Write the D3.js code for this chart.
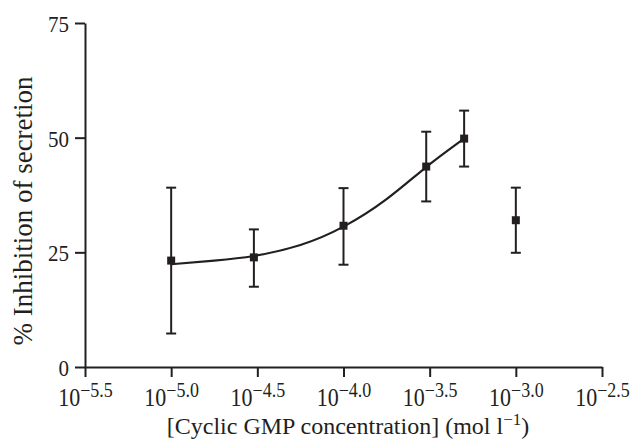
<!DOCTYPE html>
<html>
<head>
<meta charset="utf-8">
<script src="https://cdn.jsdelivr.net/npm/d3@7"></script>
<style>
  body { margin: 0; background: #fff; }
  svg { font-family: "Liberation Serif", "Times New Roman", serif; }
</style>
</head>
<body>
<svg id="chart" width="641" height="440"></svg>
<script>
// log10 of cGMP concentration (mol l-1)
const logConc = [-5.0, -4.52, -4.0, -3.52, -3.30, -3.0]
const inhibition = [23.2, 23.9, 30.8, 43.7, 49.8, 32.0]
const errHigh = [39.1, 30.0, 39.0, 51.3, 55.9, 39.1]
const errLow = [7.3, 17.5, 22.3, 36.1, 43.7, 24.9]

// fitted curve
const fitX = [-5.0, -4.75, -4.52, -4.25, -4.0, -3.75, -3.52, -3.30]
const fitY = [22.4, 23.2, 24.2, 26.6, 30.6, 36.6, 43.6, 49.8]

const xTicks = [-5.5, -5.0, -4.5, -4.0, -3.5, -3.0, -2.5]
const yTicks = [0, 25, 50, 75]

const ink = '#231f20'
const stretch = 1.12 // tick labels in the figure are a little taller than wide
const svg = d3.select('#chart')

const x = d3.scaleLinear().domain([-5.5, -2.5]).range([85, 602])
const y = d3.scaleLinear().domain([0, 75]).range([367, 23])

// y axis
const yAxis = svg.append('g')
  .attr('transform', 'translate(85,0)')
  .call(d3.axisLeft(y).tickValues(yTicks).tickSize(10).tickSizeOuter(0).tickPadding(6))
yAxis.selectAll('text')
  .attr('font-size', 21).attr('font-family', 'Liberation Serif').attr('fill', ink)
  .attr('dy', '0.36em')
  .attr('transform', `scale(1,${stretch})`)

// x axis
const xAxis = svg.append('g')
  .attr('transform', 'translate(0,367)')
  .call(d3.axisBottom(x).tickValues(xTicks).tickSize(10).tickSizeOuter(0).tickPadding(0).tickFormat(''))
xAxis.selectAll('.tick text').each(function(d) {
  let t = d3.select(this)
    .attr('font-size', 22).attr('font-family', 'Liberation Serif').attr('fill', ink)
    .attr('y', 39 / stretch).attr('dy', 0)
    .attr('transform', `scale(1,${stretch})`)
  t.append('tspan').text('10')
  t.append('tspan').attr('dy', -8).attr('font-size', 18).text('\u2212' + Math.abs(d).toFixed(1))
})

svg.selectAll('.domain, .tick line').attr('stroke', ink).attr('stroke-width', 2)

// fitted curve
const line = d3.line()
  .x((d, i) => x(fitX[i]))
  .y(d => y(d))
  .curve(d3.curveNatural)
svg.append('path')
  .datum(fitY)
  .attr('fill', 'none')
  .attr('stroke', ink)
  .attr('stroke-width', 2.2)
  .attr('d', line)

// error bars
const bars = svg.append('g').attr('stroke', ink).attr('stroke-width', 2)
logConc.forEach((c, i) => {
  bars.append('line')
    .attr('x1', x(c)).attr('x2', x(c))
    .attr('y1', y(errLow[i])).attr('y2', y(errHigh[i]))
  for (let v of [errLow[i], errHigh[i]]) {
    bars.append('line')
      .attr('x1', x(c) - 5).attr('x2', x(c) + 5)
      .attr('y1', y(v)).attr('y2', y(v))
  }
})

// markers
svg.append('g').selectAll('rect')
  .data(inhibition)
  .join('rect')
    .attr('x', (d, i) => x(logConc[i]) - 4)
    .attr('y', d => y(d) - 4)
    .attr('width', 8)
    .attr('height', 8)
    .attr('fill', ink)

// axis titles
svg.append('text')
  .attr('transform', 'translate(32,211) rotate(-90)')
  .attr('text-anchor', 'middle')
  .attr('font-size', 27)
  .attr('fill', ink)
  .text('% Inhibition of secretion')

const xt = svg.append('text')
  .attr('x', 348).attr('y', 434)
  .attr('text-anchor', 'middle')
  .attr('font-size', 24)
  .attr('fill', ink)
xt.append('tspan').text('[Cyclic GMP concentration] (mol l')
xt.append('tspan').attr('dy', -9).attr('font-size', 17).text('\u22121')
xt.append('tspan').attr('dy', 9).text(')')
</script>
</body>
</html>
